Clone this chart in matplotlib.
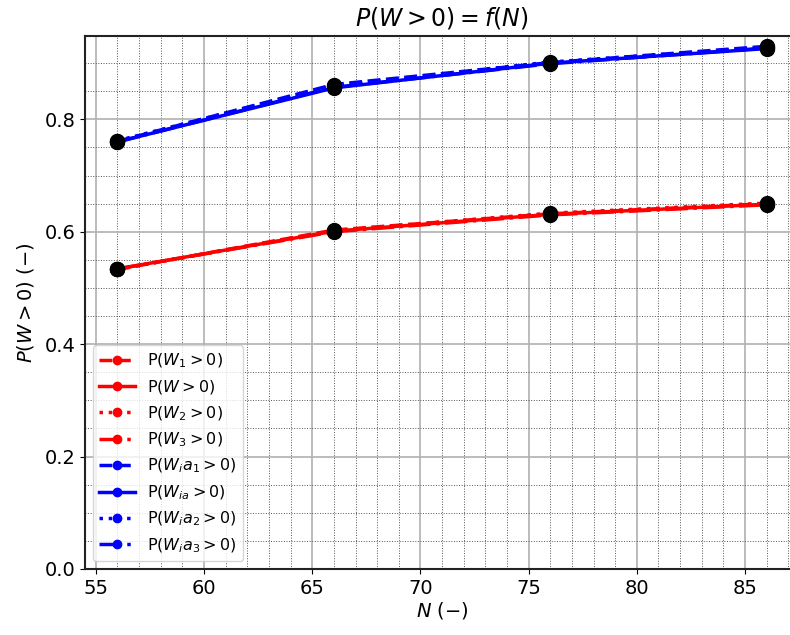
import matplotlib
matplotlib.use("Agg")
import matplotlib.pyplot as plt
from matplotlib.ticker import MultipleLocator

# data
N = [56, 66, 76, 86]

p_w1 = [0.533, 0.603, 0.632, 0.650]
p_w = [0.534, 0.601, 0.631, 0.649]
p_w2 = [0.533, 0.602, 0.633, 0.651]
p_w3 = [0.534, 0.600, 0.630, 0.648]

p_wia1 = [0.761, 0.862, 0.901, 0.930]
p_wia = [0.760, 0.856, 0.900, 0.926]
p_wia2 = [0.762, 0.860, 0.902, 0.928]
p_wia3 = [0.760, 0.857, 0.899, 0.927]

labels = [r"P($W_1 > 0$)", r"P($W > 0$)", r"P($W_2 > 0$)", r"P($W_3 > 0$)",
          r"P($W_ia_1 > 0$)", r"P($W_{ia} > 0$)", r"P($W_ia_2 > 0$)", r"P($W_ia_3 > 0$)"]

series = [p_w1, p_w, p_w2, p_w3, p_wia1, p_wia, p_wia2, p_wia3]
colors = ["red"] * 4 + ["blue"] * 4
styles = ["--", "-", ":", "-."] * 2

fig = plt.figure(figsize=(7.9, 6.35), dpi=100)
ax = fig.add_axes([0.1076, 0.104, 0.904, 0.839])

for y, c, ls, lab in zip(series, colors, styles, labels):
    ax.plot(N, y, color=c, linestyle=ls, linewidth=2.5, marker="o", markersize=6, label=lab)

# black dots on every data point
for y in series:
    ax.plot(N, y, linestyle="none", marker="o", markersize=10, color="black")

ax.set_xlim(54.5, 87.5)
ax.set_ylim(0, 0.948)
ax.xaxis.set_major_locator(MultipleLocator(5))
ax.xaxis.set_minor_locator(MultipleLocator(1))
ax.yaxis.set_major_locator(MultipleLocator(0.2))
ax.yaxis.set_minor_locator(MultipleLocator(0.05))
ax.grid(True, which="major", color="#b0b0b0", linewidth=1.2)
ax.grid(True, which="minor", color="#555555", linestyle=":", linewidth=0.7)
ax.tick_params(which="minor", length=0)
ax.tick_params(which="major", labelsize=14)

for s in ax.spines.values():
    s.set_color("#222222")
    s.set_linewidth(1.5)

ax.set_title(r"$P(W > 0) = f(N)$", fontsize=17, pad=8)
ax.set_xlabel(r"$N$ $(-)$", fontsize=14, labelpad=2)
ax.set_ylabel(r"$P(W > 0)$ $(-)$", fontsize=14, labelpad=6)

ax.legend(loc="lower left", fontsize=11.5, handlelength=2.2, labelspacing=0.5)

fig.savefig("out.png", dpi=100)
